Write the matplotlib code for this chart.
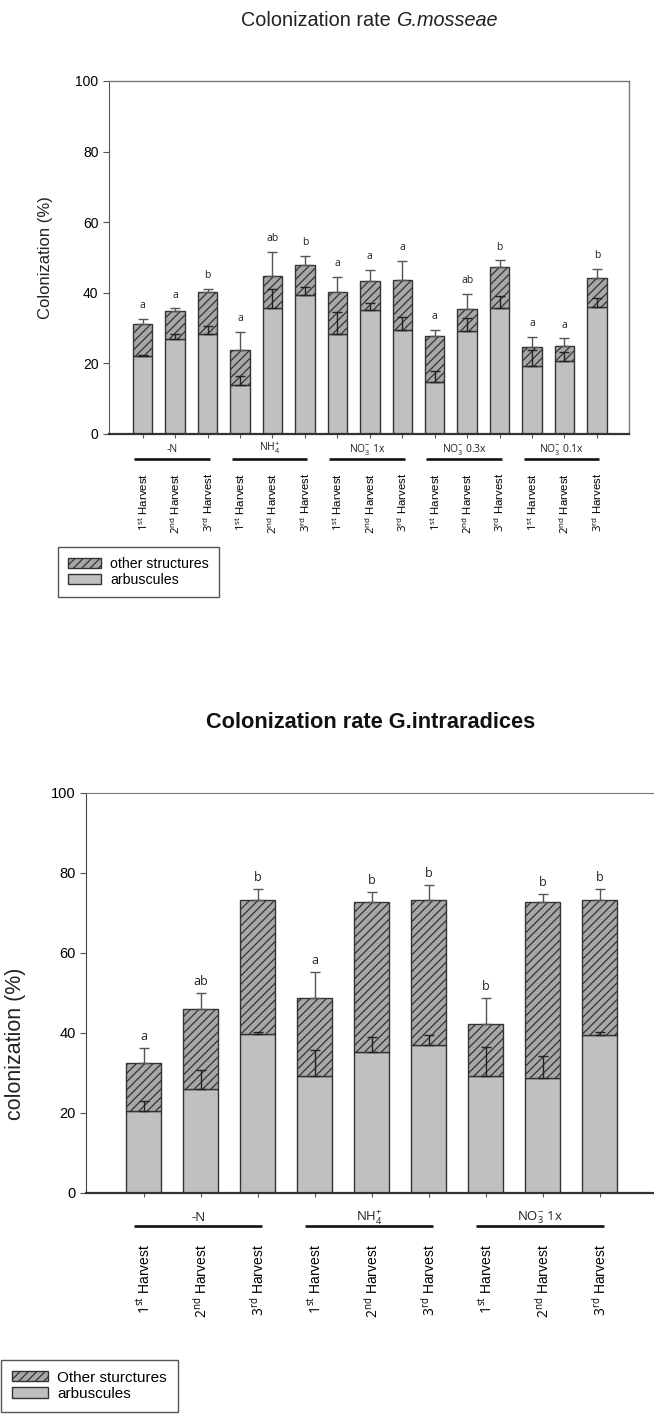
import matplotlib
matplotlib.use("Agg")
import matplotlib.pyplot as plt
import numpy as np

plt.rcParams['font.family'] = ['Liberation Sans', 'DejaVu Sans']
plt.rcParams['mathtext.fontset'] = 'custom'
plt.rcParams['mathtext.rm'] = 'Open Sans'
plt.rcParams['mathtext.it'] = 'Open Sans:italic'
plt.rcParams['mathtext.bf'] = 'Open Sans:bold'
plt.rcParams['hatch.linewidth'] = 0.9

# ---------------- data: G. mosseae ----------------
harvests = ["$1^{\\mathrm{st}}$ Harvest", "$2^{\\mathrm{nd}}$ Harvest", "$3^{\\mathrm{rd}}$ Harvest"]
groups_top = ["-N", "NH$_4^{+}$", "NO$_3^{-}$ 1x", "NO$_3^{-}$ 0.3x", "NO$_3^{-}$ 0.1x"]
arb_top = [22.1, 26.9, 28.3, 13.9, 35.7, 39.3, 28.4, 35.0, 29.6, 14.7, 29.2, 35.7, 19.3, 20.8, 36.0]
other_top = [9.0, 8.0, 11.9, 9.9, 9.0, 8.7, 11.8, 8.3, 13.9, 13.2, 6.1, 11.6, 5.3, 4.2, 8.1]
err_total_top = [1.6, 0.7, 1.0, 5.2, 6.9, 2.4, 4.4, 3.1, 5.5, 1.5, 4.5, 1.9, 2.9, 2.1, 2.6]
err_arb_top = [0.4, 1.4, 2.2, 2.5, 5.5, 2.4, 6.2, 2.2, 3.6, 3.1, 3.7, 3.3, 4.6, 2.3, 2.5]
letters_top = ["a", "a", "b", "a", "ab", "b", "a", "a", "a", "a", "ab", "b", "a", "a", "b"]

# ---------------- data: G. intraradices ----------------
groups_bot = ["-N", "NH$_4^{+}$", "NO$_3^{-}$ 1x"]
arb_bot = [20.4, 25.9, 39.6, 29.2, 35.1, 37.0, 29.2, 28.6, 39.5]
other_bot = [12.1, 20.1, 33.7, 19.6, 37.7, 36.3, 13.1, 44.2, 33.8]
err_total_bot = [3.8, 4.0, 2.7, 6.5, 2.5, 3.6, 6.4, 1.8, 2.6]
err_arb_bot = [2.5, 4.9, 0.6, 6.5, 3.9, 2.4, 7.2, 5.5, 0.7]
letters_bot = ["a", "ab", "b", "a", "b", "b", "b", "b", "b"]

W, H = 654, 1416
fig = plt.figure(figsize=(W / 100, H / 100), dpi=100)

ARB_FC = '#c0c0c0'
OTH_FC = '#a8a8a8'
EDGE = '#333333'


def fx(px):
    return px / W


def fy(py):
    return 1 - py / H


def draw_chart(ax, arb, other, err_tot, err_arb, letters, groups, width, cap,
               letter_fs, letter_off, harvest_fs, group_fs, line_y, label_y,
               line_ext, line_lw, pad):
    arb = np.array(arb)
    other = np.array(other)
    x = np.arange(len(arb))
    total = arb + other
    b1 = ax.bar(x, arb, width, color=ARB_FC, edgecolor=EDGE, linewidth=1.0, zorder=2)
    b2 = ax.bar(x, other, width, bottom=arb, color=OTH_FC, edgecolor=EDGE,
                hatch='////', linewidth=1.0, zorder=2)
    ax.errorbar(x, total, yerr=[np.zeros_like(total), err_tot], fmt='none',
                ecolor='#555555', elinewidth=1.0, capsize=cap, capthick=1.0, zorder=3)
    ax.errorbar(x, arb, yerr=[np.zeros_like(arb), err_arb], fmt='none',
                ecolor='#222222', elinewidth=1.0, capsize=cap, capthick=1.0, zorder=3)
    for xi, t, e, l in zip(x, total, err_tot, letters):
        ax.text(xi, t + e + letter_off, l, ha='center', va='bottom',
                fontsize=letter_fs, family='Open Sans', color='#222222')
    ax.set_ylim(0, 100)
    ax.set_yticks([0, 20, 40, 60, 80, 100])
    ax.set_xticks(x)
    ax.set_xticklabels(harvests * len(groups), rotation=90, fontsize=harvest_fs)
    ax.tick_params(axis='x', length=3, width=0.8, color='#555555', pad=pad)
    ax.tick_params(axis='y', length=4, width=0.8, color='#555555')
    trans = ax.get_xaxis_transform()
    for g, name in enumerate(groups):
        s, e = 3 * g, 3 * g + 2
        ax.plot([s - line_ext[0], e + line_ext[1]], [line_y, line_y], color='#111111',
                lw=line_lw, transform=trans, clip_on=False, solid_capstyle='butt')
        ax.text((s - line_ext[0] + e + line_ext[1]) / 2, label_y, name, transform=trans,
                ha='center', va='center', fontsize=group_fs, family='Open Sans',
                color='#222222')
    return b1, b2


def legend(handles, labels, x, y, fs):
    fig.legend(handles, labels, loc='upper left',
               bbox_to_anchor=(fx(x), fy(y)), bbox_transform=fig.transFigure,
               borderaxespad=0, fontsize=fs, frameon=True, fancybox=False,
               edgecolor='#555555', framealpha=1, handlelength=2.35, handleheight=0.66,
               handletextpad=0.64, labelspacing=0.15, borderpad=0.7)


# ---------------- top chart ----------------
ax1 = fig.add_axes([fx(109), fy(434), fx(629 - 109), (434 - 81) / H])
b1, b2 = draw_chart(ax1, arb_top, other_top, err_total_top, err_arb_top, letters_top,
                    groups_top, 0.6, 3.6, 7.5, 2.2, 8.2, 7.5,
                    -0.0708, -0.0425, (0.26, 0.07), 1.9, 25)
ax1.set_xlim(-1.04, 14.99)
for s in ['top', 'right']:
    ax1.spines[s].set_color('#777777')
    ax1.spines[s].set_linewidth(1.0)
ax1.spines['left'].set_color('#555555')
ax1.spines['bottom'].set_color('#333333')
ax1.spines['bottom'].set_linewidth(1.6)
ax1.tick_params(axis='y', labelsize=10)
ax1.set_ylabel('Colonization (%)', fontsize=12, color='#222222')
ax1.yaxis.set_label_coords(-0.108, 0.5)

# title with italic species name, centred as a whole
t1 = fig.text(0, fy(20), 'Colonization rate ', ha='left', va='center',
              fontsize=14.3, color='#222222')
t2 = fig.text(0, fy(20), 'G.mosseae', ha='left', va='center', fontsize=14.3,
              style='italic', color='#222222')
fig.canvas.draw()
r = fig.canvas.get_renderer()
w1 = t1.get_window_extent(r).width
w2 = t2.get_window_extent(r).width
x0 = 369 - (w1 + w2) / 2
t1.set_x(fx(x0))
t2.set_x(fx(x0 + w1))

legend([b2[0], b1[0]], ['other structures', 'arbuscules'], 58, 547, 10.2)

# ---------------- bottom chart ----------------
ax2 = fig.add_axes([fx(86), fy(1192.7), fx(660 - 86), 400 / H])
c1, c2 = draw_chart(ax2, arb_bot, other_bot, err_total_bot, err_arb_bot, letters_bot,
                    groups_bot, 0.62, 3.9, 9, 1.2, 10, 9.5,
                    -0.0825, -0.063, (0.17, 0.08), 1.9, 34)
ax2.set_xlim(-1.012, 9.058)
ax2.spines['right'].set_visible(False)
ax2.spines['top'].set_color('#777777')
ax2.spines['left'].set_color('#444444')
ax2.spines['bottom'].set_color('#333333')
ax2.spines['bottom'].set_linewidth(1.6)
ax2.tick_params(axis='y', labelsize=10.5)
ax2.set_ylabel('colonization (%)', fontsize=15.5, color='#222222')
ax2.yaxis.set_label_coords(-0.1045, (1192.7 - 1044) / 400)
fig.text(fx(371), fy(723), 'Colonization rate G.intraradices', ha='center',
         va='center', fontsize=15.7, fontweight='bold', color='#111111')
legend([c2[0], c1[0]], ['Other sturctures', 'arbuscules'], 1, 1360, 11)

fig.savefig('out.png', dpi=100)
